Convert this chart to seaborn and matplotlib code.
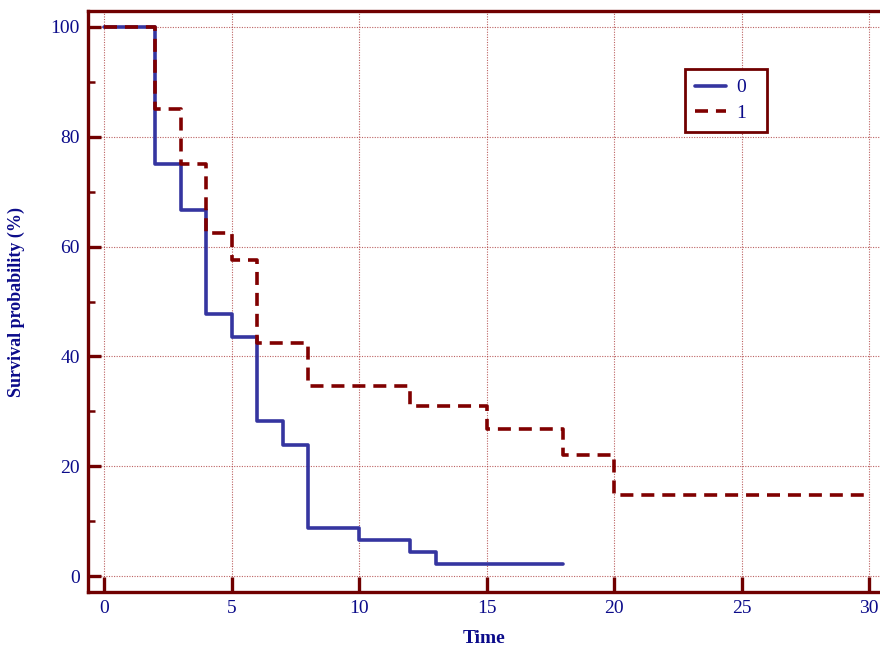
import matplotlib
matplotlib.use("Agg")
import matplotlib.pyplot as plt
import seaborn as sns
import pandas as pd
from matplotlib.ticker import MultipleLocator

# Data (Kaplan-Meier step curves)
time_0 = [0, 2, 3, 4, 5, 6, 7, 8, 10, 12, 13, 18]
surv_0 = [100, 75, 66.7, 47.8, 43.5, 28.3, 23.9, 8.7, 6.5, 4.3, 2.2, 2.2]
time_1 = [0, 2, 3, 4, 5, 6, 8, 12, 15, 18, 20, 30]
surv_1 = [100, 85, 75, 62.5, 57.5, 42.5, 34.6, 31.0, 26.7, 22.0, 14.7, 14.7]
groups = ["0", "1"]
x_ticks = [0, 5, 10, 15, 20, 25, 30]
y_ticks = [0, 20, 40, 60, 80, 100]

sns.set_theme(style="white")
plt.rcParams["font.family"] = ["Liberation Serif", "DejaVu Serif"]

navy = "#0b0b8a"
maroon = "#700000"
blue = "#3535a0"
red = "#800000"

df = pd.concat([
    pd.DataFrame({"Time": time_0, "Survival": surv_0, "Group": groups[0]}),
    pd.DataFrame({"Time": time_1, "Survival": surv_1, "Group": groups[1]}),
], ignore_index=True)

fig = plt.figure(figsize=(8.8, 6.48), dpi=100)
ax = fig.add_axes([0.1, 0.0864, 0.9, 0.8966])

sns.lineplot(data=df[df.Group == "0"], x="Time", y="Survival", ax=ax,
             drawstyle="steps-post", estimator=None, sort=False,
             color=blue, linewidth=2.6, label="0", legend=False, zorder=3)
sns.lineplot(data=df[df.Group == "1"], x="Time", y="Survival", ax=ax,
             drawstyle="steps-post", estimator=None, sort=False,
             color=red, linewidth=2.6, label="1", legend=False, zorder=4)
ax.lines[1].set_dashes((3.6, 2.2))

ax.set_xlim(-0.63, 30.43)
ax.set_ylim(-2.9, 102.9)
ax.set_xticks(x_ticks)
ax.set_yticks(y_ticks)
ax.yaxis.set_minor_locator(MultipleLocator(10))

ax.grid(True, which="major", color="#a02020", linestyle=(0, (1, 1.3)), linewidth=0.8, alpha=0.7)
ax.set_axisbelow(True)

for side in ["left", "bottom", "top"]:
    ax.spines[side].set_color(maroon)
    ax.spines[side].set_linewidth(2.4)
ax.spines["right"].set_visible(False)

ax.tick_params(axis="x", which="major", direction="in", length=11, width=2.4,
               color=maroon, labelcolor=navy, labelsize=14, pad=6, bottom=True, top=False)
ax.tick_params(axis="y", which="major", direction="in", length=9.5, width=2.4,
               color=maroon, labelcolor=navy, labelsize=14, pad=6, left=True, right=False)
ax.tick_params(axis="y", which="minor", direction="in", length=5, width=1.8,
               color=maroon, left=True, right=False)

ax.set_xlabel("Time", color=navy, fontsize=14, fontweight="bold", labelpad=9)
ax.set_ylabel("Survival probability (%)", color=navy, fontsize=13, fontweight="bold", labelpad=18)

leg = ax.legend(loc="upper left", bbox_to_anchor=(0.754, 0.795, 0.1035, 0.105),
                mode="expand", borderaxespad=0,
                fontsize=14, frameon=True, fancybox=False, framealpha=1, handlelength=1.6,
                handletextpad=0.55, borderpad=0.5, labelspacing=0.4)
leg.get_frame().set_edgecolor(maroon)
leg.get_frame().set_linewidth(2.0)
for t in leg.get_texts():
    t.set_color(navy)

fig.savefig("out.png", dpi=100)
